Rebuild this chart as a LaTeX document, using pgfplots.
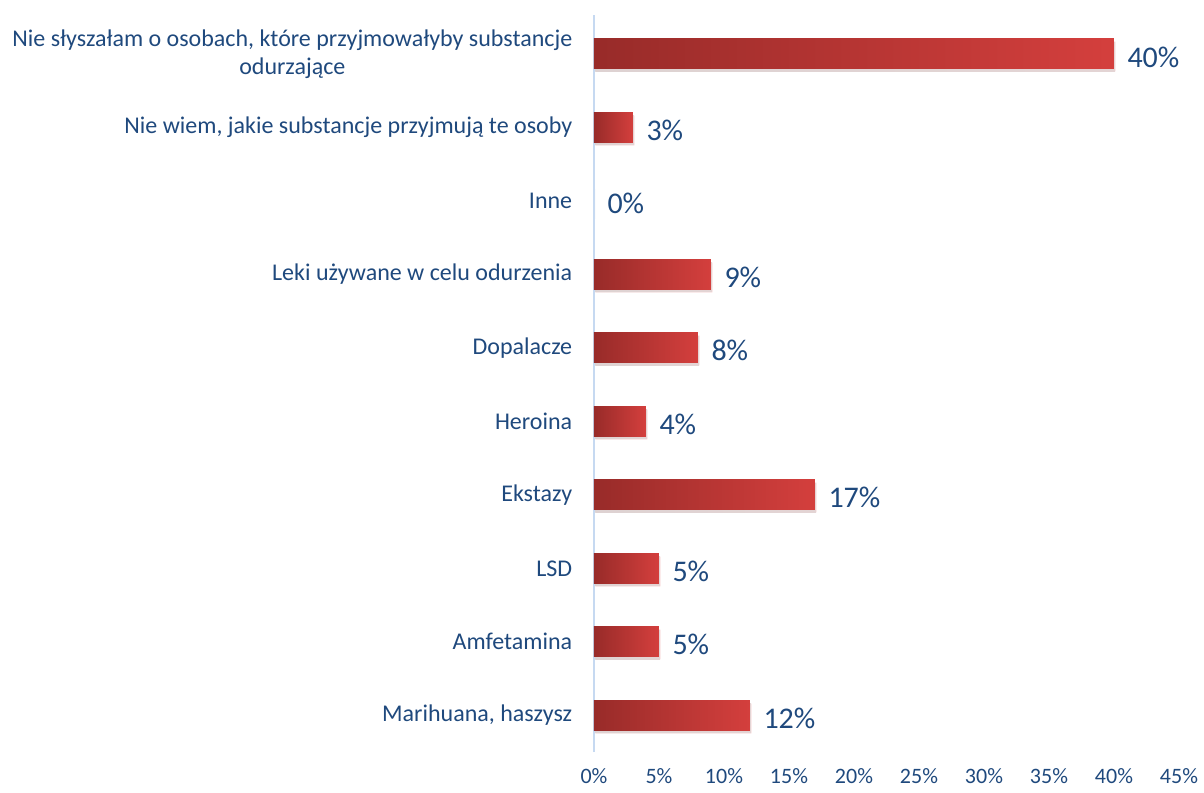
\documentclass[border=0pt]{standalone}
\usepackage{pgfplots}
\pgfplotsset{compat=1.18}
\usepackage{fontspec}
\setmainfont{Carlito}
\definecolor{txt}{HTML}{1F497D}
\definecolor{barL}{HTML}{982B29}
\definecolor{barR}{HTML}{D43F3D}
\definecolor{axln}{HTML}{C6D9F1}
\pgfplotsset{
  redbar/.style={draw=none, left color=barL, right color=barR,
    preaction={fill=black, opacity=0.10, transform canvas={xshift=1.5pt, yshift=-3pt}}},
}
\begin{document}
\begin{tikzpicture}
\path[use as bounding box] (-594pt,-40pt) rectangle (610pt,752pt);
\begin{axis}[
    scale only axis,
    width=585pt, height=737pt,
    xbar, bar width=30pt, bar shift=0pt,
    xmin=0, xmax=45,
    ymin=-0.5, ymax=9.53,
    axis x line=none,
    axis y line*=left,
    y axis line style={draw=axln, line width=1.2pt, -},
    ytick={0,...,9},
    yticklabels={
      {Marihuana, haszysz},
      {Amfetamina},
      {LSD},
      {Ekstazy},
      {Heroina},
      {Dopalacze},
      {Leki używane w celu odurzenia},
      {Inne},
      {Nie wiem, jakie substancje przyjmują te osoby},
      {Nie słyszałam o osobach, które przyjmowałyby substancje\\odurzające}},
    yticklabel style={font=\fontsize{24}{28}\selectfont, text=txt, align=center, xshift=-14pt},
    ytick style={draw=none},
    nodes near coords={\pgfmathprintnumber{\pgfplotspointmeta}\%},
    every node near coord/.append style={font=\fontsize{30}{35}\selectfont, text=txt, xshift=10pt, yshift=-3pt},
    /pgf/number format/assume math mode=true,
    clip=false,
]
\addplot[redbar] coordinates {(12,0)};
\addplot[redbar] coordinates {(5,1)};
\addplot[redbar] coordinates {(5,2)};
\addplot[redbar] coordinates {(17,3)};
\addplot[redbar] coordinates {(4,4)};
\addplot[redbar] coordinates {(8,5)};
\addplot[redbar] coordinates {(9,6)};
\addplot[redbar] coordinates {(0,7)};
\addplot[redbar] coordinates {(3,8)};
\addplot[redbar] coordinates {(40,9)};
\end{axis}
% x tick labels drawn as a second axis sharing the same x scale
\begin{axis}[
    scale only axis,
    width=585pt, height=737pt,
    xmin=0, xmax=45, ymin=0, ymax=1,
    axis x line*=bottom, axis y line=none,
    x axis line style={draw=none},
    xtick={0,5,...,45},
    xticklabel={\pgfmathprintnumber{\tick}\%},
    xticklabel style={font=\fontsize{22}{26}\selectfont, text=txt, yshift=-13pt},
    xtick style={draw=none},
    /pgf/number format/assume math mode=true,
]
\addplot[draw=none] coordinates {(0,0)};
\end{axis}
\end{tikzpicture}
\end{document}
